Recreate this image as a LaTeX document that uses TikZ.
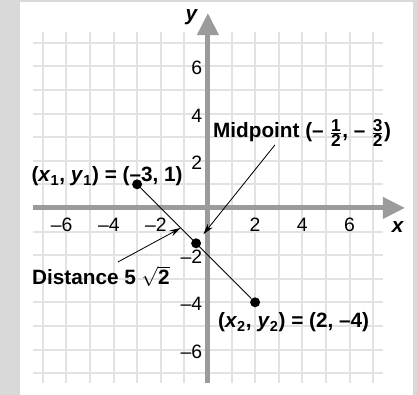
\documentclass[tikz,border=0pt]{standalone}
\usepackage{fontspec}
\setmainfont{Liberation Sans}
\usetikzlibrary{arrows.meta,calc}
\definecolor{bgclr}{RGB}{217,217,217}
\definecolor{axisclr}{RGB}{155,155,155}
\definecolor{gridclr}{RGB}{226,226,226}
\newcommand{\fr}[2]{{\fontsize{12.5}{14}\selectfont$\frac{\mbox{#1}}{\mbox{#2}}$}}
\tikzset{
  gridln/.style={draw=gridclr,line width=1.45pt},
  axis/.style={draw=axisclr,line width=3.6pt,
               -{Triangle[length=16pt,width=15pt]}},
  dot/.style={circle,fill=black,inner sep=0pt,minimum size=7.2pt},
  lbl/.style={font=\fontsize{15}{18}\selectfont\bfseries,inner sep=0pt},
  ticklbl/.style={font=\fontsize{14}{16}\selectfont,inner sep=0pt},
  ptr/.style={-{Stealth[length=8pt,width=4.5pt]},line width=0.6pt},
  seg/.style={line width=0.7pt},
}
\begin{document}
\begin{tikzpicture}[x=0.6cm,y=0.6cm]
\useasboundingbox (-8.81,-7.92) rectangle (8.86,8.81);
\fill[bgclr] (-8.81,-7.92) rectangle (8.86,8.81);
\fill[white] (-7.97,-7.92) rectangle (8.69,8.73);
\foreach \i in {-7,...,7} {
  \draw[gridln] (\i,-7.4) -- (\i,7.45);
  \draw[gridln] (-7.4,\i) -- (7.4,\i);
}
\draw[axis] (-7.42,0) -- (8.35,0);
\draw[axis] (0,-7.42) -- (0,8.26);
\node[lbl] (xlbl) at (8.05,-0.8) {\textit{x}};
\node[lbl] (ylbl) at (-0.68,8.09) {\textit{y}};
\foreach \v in {2,4,6} {
  \node[ticklbl] (xp\v) at (\v,-0.72) {\v};
  \node[ticklbl] (xn\v) at (-\v-0.2,-0.72) {--\v};
  \node[ticklbl,anchor=east] (yp\v) at (-0.23,\v-0.08) {\v};
  \node[ticklbl,anchor=east] (yn\v) at (-0.23,-\v-0.08) {--\v};
}
\node[dot] (p1) at (-3,1) {};
\node[dot] (mid) at (-0.5,-1.5) {};
\node[dot] (p2) at (2,-4) {};
\draw[seg] (p1) -- (p2);
\node[lbl,anchor=base east] (p1lbl) at (-1.06,1.10)
  {(\textit{x}\textsubscript{1}, \textit{y}\textsubscript{1}) = (--3, 1)};
\node[lbl,anchor=base west] (p2lbl) at (0.42,-5.08)
  {(\textit{x}\textsubscript{2}, \textit{y}\textsubscript{2}) = (2, --4)};
\node[lbl,anchor=base west] (midlbl) at (0.21,2.97)
  {Midpoint (-- \fr{1}{2}, -- \fr{3}{2})};
\node[lbl,anchor=base west] (distlbl) at (-7.46,-3.26)
  {Distance 5 $\sqrt{\mbox{2}}$};
\coordinate (midtail) at (2.84,2.67);
\draw[ptr,shorten >=4.6pt] (midtail) -- (mid);
\coordinate (segpt) at ($(p1)!0.37!(p2)$);
\coordinate (disttail) at (-3.81,-2.29);
\draw[ptr] (disttail) -- (segpt);
\end{tikzpicture}
\end{document}
